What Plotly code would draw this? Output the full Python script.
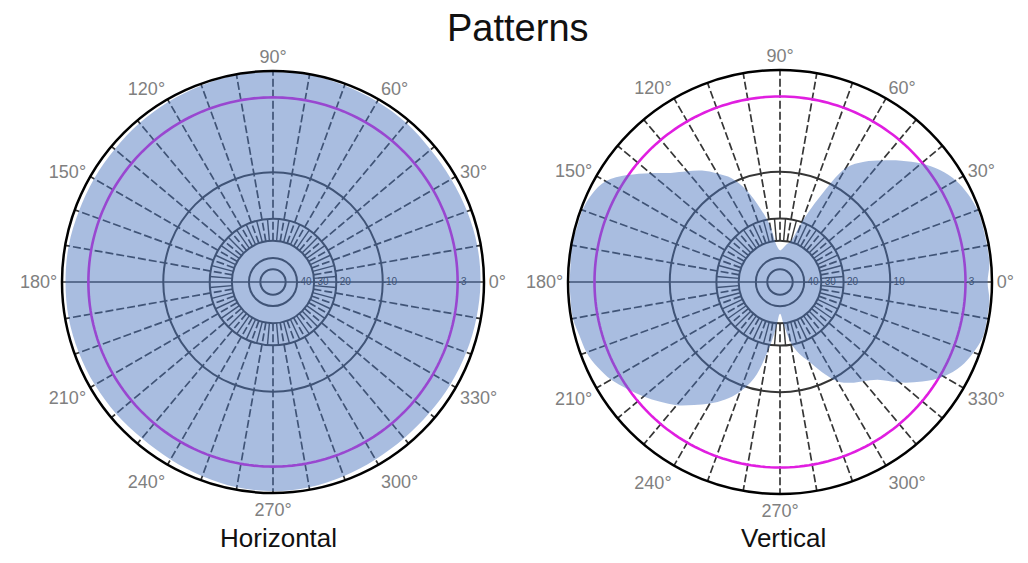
import numpy as np
import plotly.graph_objects as go

# ---------------- data ----------------
# radial dB scale of the chart (log-periodic style): ring level -> fraction of radius
DB_LEVELS = [-50, -40, -30, -20, -10, -3, 0]
RING_FRAC = [0.06, 0.114, 0.195, 0.30, 0.52, 0.875, 1.0]

RING_LABEL_DB = [-40, -30, -20, -10, -3]
RING_LABELS = ["-40", "-30", "-20", "-10", "-3"]

ANGLE_TICKS = [0, 30, 60, 90, 120, 150, 180, 210, 240, 270, 300, 330]

HORIZ_ANGLES = list(range(0, 360, 10))
HORIZ_DB = [-0.4, -0.4, -0.5, -0.6, -0.6, -0.4, -0.3, -0.2, -0.1, -0.1, -0.1, -0.2,
            -0.3, -0.4, -0.5, -0.5, -0.5, -0.4, -0.4, -0.4, -0.5, -0.6, -0.7, -0.8,
            -0.7, -0.5, -0.3, -0.2, -0.3, -0.5, -0.7, -0.8, -0.8, -0.7, -0.6, -0.5]

VERT_ANGLES = list(range(0, 360, 5))
VERT_DB = [-0.5, -0.2, -0.2, -0.2, -0.2, -0.5, -1.0, -1.9, -3.1, -4.3, -5.5, -6.6,
           -8.0, -13.6, -20.0, -29.5, -31.8, -34.3, -35.6, -33.1, -22.9, -17.3, -12.7, -9.6,
           -8.6, -7.6, -6.8, -5.9, -4.5, -2.9, -1.2, -0.5, -0.2, -0.2, 0.0, -0.2,
           -0.2, -0.2, -0.2, -0.5, -0.7, -1.2, -1.9, -2.9, -3.7, -4.5, -5.3, -6.3,
           -7.2, -8.2, -9.4, -12.3, -18.6, -27.6, -35.6, -29.5, -21.0, -17.7, -15.5, -12.3,
           -9.6, -8.8, -8.2, -7.4, -5.7, -4.1, -2.6, -1.4, -0.7, -0.2, -0.2, -0.2]

TITLE = "Patterns"
SUBTITLES = ["Horizontal", "Vertical"]


def to_r(db):
    return np.interp(db, DB_LEVELS, RING_FRAC)


GRID = "#363636"
FONT = "Liberation Sans, Arial, sans-serif"

fig = go.Figure()


def add_grid(sub):
    th, rr = [], []
    r_in = float(to_r(-30))
    for a in range(10, 360, 10):
        if a == 180:
            continue
        th += [a, a, None]
        rr += [r_in, 1.0, None]
    fig.add_trace(go.Scatterpolar(theta=th, r=rr, mode="lines", subplot=sub,
                                  line=dict(color=GRID, width=1.7, dash="8px,3px"),
                                  hoverinfo="skip", connectgaps=False))
    th, rr = [], []
    r_out = float(to_r(-20))
    for a in range(5, 360, 10):
        th += [a, a, None]
        rr += [r_in, r_out, None]
    fig.add_trace(go.Scatterpolar(theta=th, r=rr, mode="lines", subplot=sub,
                                  line=dict(color=GRID, width=1.4),
                                  hoverinfo="skip", connectgaps=False))
    fig.add_trace(go.Scatterpolar(theta=[0, 0, 180], r=[1.0, 0.0, 1.0], mode="lines", subplot=sub,
                                  line=dict(color=GRID, width=1.6), hoverinfo="skip"))
    ring_th = np.linspace(0, 360, 241)
    fig.add_trace(go.Scatterpolar(theta=ring_th, r=np.full_like(ring_th, to_r(-3)),
                                  mode="lines", subplot=sub,
                                  line=dict(color="#e01ee0", width=2.6), hoverinfo="skip"))
    fig.add_trace(go.Scatterpolar(theta=[0] * len(RING_LABEL_DB), r=to_r(RING_LABEL_DB),
                                  mode="text", text=RING_LABELS, textposition="middle right",
                                  textfont=dict(size=10, color="#333333", family=FONT),
                                  subplot=sub, hoverinfo="skip"))


def add_pattern(sub, angles, dbs):
    th = list(angles) + [angles[0]]
    rr = list(to_r(dbs)) + [float(to_r(dbs[0]))]
    fig.add_trace(go.Scatterpolar(theta=th, r=rr, mode="lines", fill="toself",
                                  fillcolor="rgba(75,118,190,0.48)",
                                  line=dict(width=0, shape="spline", color="rgba(0,0,0,0)"),
                                  subplot=sub, hoverinfo="skip"))


add_grid("polar")
add_pattern("polar", HORIZ_ANGLES, HORIZ_DB)
add_grid("polar2")
add_pattern("polar2", VERT_ANGLES, VERT_DB)

W, H = 1028, 563
OFF = 8  # the page body margin shifts the figure by this many pixels


def px_x(x):
    return (x - OFF) / W


def px_y(y):
    return 1 - (y - OFF) / H


def polar_layout(cx, cy, R):
    return dict(
        domain=dict(x=[px_x(cx - R), px_x(cx + R)], y=[px_y(cy + R), px_y(cy - R)]),
        bgcolor="white",
        radialaxis=dict(range=[0, 1], tickvals=list(to_r(DB_LEVELS[:5])), showticklabels=False,
                        ticks="", showline=False, gridcolor=GRID, gridwidth=1.8),
        angularaxis=dict(rotation=0, direction="counterclockwise", tickvals=ANGLE_TICKS,
                         ticktext=[f"{a}°" for a in ANGLE_TICKS], ticks="", showgrid=False,
                         showline=True, linecolor="black", linewidth=2.5,
                         tickfont=dict(size=18, color="#808080", family=FONT)),
    )


fig.update_layout(
    width=W, height=H,
    margin=dict(l=0, r=0, t=0, b=0),
    paper_bgcolor="white",
    showlegend=False,
    hovermode=False,
    polar=polar_layout(273, 282, 211),
    polar2=polar_layout(780, 282, 212),
    annotations=[
        dict(text=TITLE, x=px_x(518), y=px_y(28), xref="paper", yref="paper", showarrow=False,
             xanchor="center", yanchor="middle",
             font=dict(size=38, color="#111111", family=FONT)),
        dict(text=SUBTITLES[0], x=px_x(278), y=px_y(538), xref="paper", yref="paper", showarrow=False,
             xanchor="center", yanchor="middle",
             font=dict(size=26, color="#111111", family=FONT)),
        dict(text=SUBTITLES[1], x=px_x(783), y=px_y(538), xref="paper", yref="paper", showarrow=False,
             xanchor="center", yanchor="middle",
             font=dict(size=26, color="#111111", family=FONT)),
    ],
)

fig.write_html("out.html")
